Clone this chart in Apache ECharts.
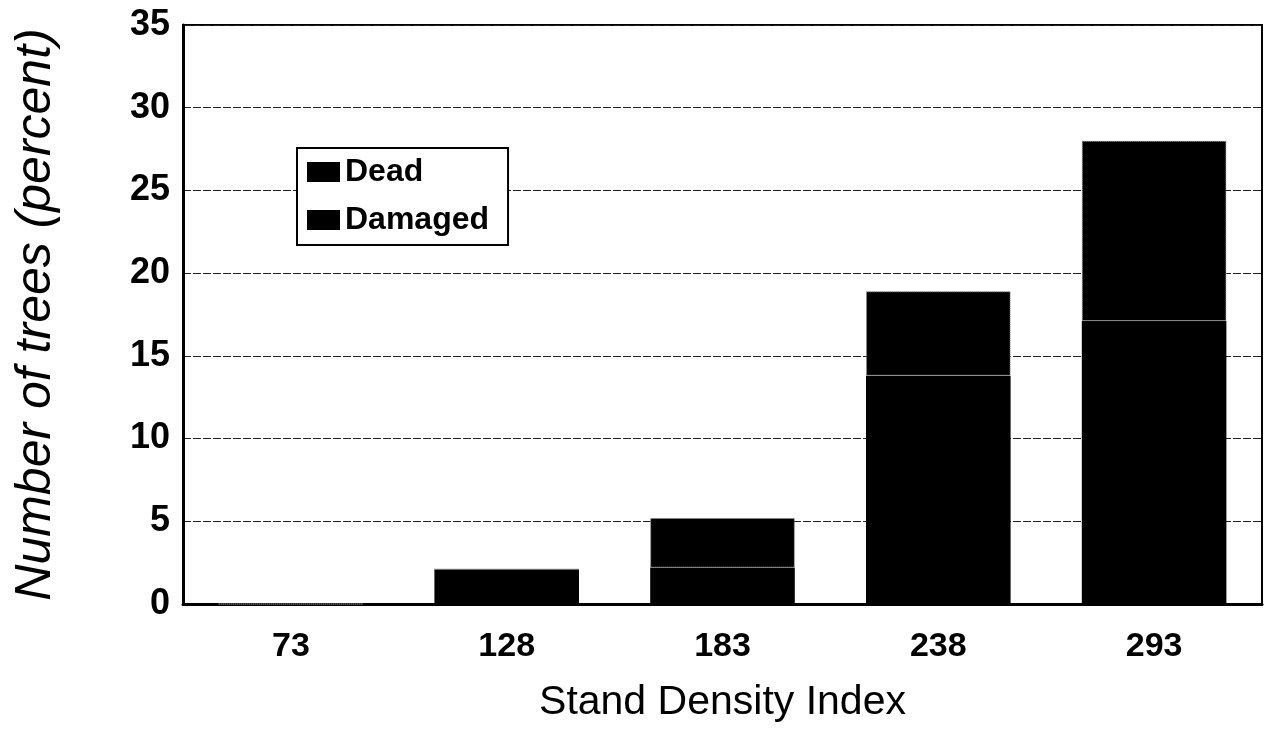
<!DOCTYPE html>
<html>
<head>
<meta charset="utf-8">
<script src="https://cdn.jsdelivr.net/npm/echarts@6/dist/echarts.min.js"></script>
<style>
html,body{margin:0;padding:0;background:#fff;}
#chart{width:1269px;height:730px;}
</style>
</head>
<body>
<div id="chart"></div>
<script>
const categories = ['73', '128', '183', '238', '293'];
const damaged = [0, 2.1, 2.2, 13.8, 17.1];
const dead = [0, 0, 3.0, 5.1, 10.9];
const yTicks = [0, 5, 10, 15, 20, 25, 30, 35];

const chart = echarts.init(document.getElementById('chart'));
const font = 'Liberation Sans, Arial, sans-serif';
chart.setOption({
  animation: false,
  backgroundColor: '#fff',
  textStyle: { fontFamily: font, color: '#000' },
  grid: { left: 183, right: 7, top: 25, bottom: 126, show: true, borderColor: '#000', borderWidth: 2 },
  legend: {
    data: ['Dead', 'Damaged'],
    orient: 'vertical',
    left: 297, top: 148,
    padding: [6, 19, 7, 10],
    itemGap: 12,
    itemWidth: 33, itemHeight: 20,
    icon: 'rect',
    itemStyle: { borderWidth: 0 },
    borderColor: '#000', borderWidth: 2,
    backgroundColor: '#fff',
    textStyle: { fontFamily: font, fontSize: 32, fontWeight: 'bold', color: '#000', lineHeight: 36 }
  },
  xAxis: {
    type: 'category',
    data: categories,
    axisLine: { lineStyle: { color: '#000', width: 3 } },
    axisTick: { show: false },
    axisLabel: { fontFamily: font, fontSize: 34, fontWeight: 'bold', color: '#000', margin: 26 },
    name: 'Stand Density Index',
    nameLocation: 'middle',
    nameGap: 78,
    nameTextStyle: { fontFamily: font, fontSize: 41, color: '#000' }
  },
  yAxis: {
    type: 'value',
    min: yTicks[0], max: yTicks[yTicks.length - 1], interval: yTicks[1] - yTicks[0],
    axisLine: { show: true, lineStyle: { color: '#000', width: 3 } },
    axisTick: { show: false },
    axisLabel: { fontFamily: font, fontSize: 36, fontWeight: 'bold', color: '#000', margin: 13 },
    splitLine: { lineStyle: { color: '#222', width: 1, type: [8, 2] } },
    name: 'Number of trees (percent)',
    nameLocation: 'middle',
    nameGap: 122,
    nameTextStyle: { fontFamily: font, fontSize: 50, fontStyle: 'italic', color: '#000' }
  },
  series: [
    { name: 'Damaged', type: 'bar', stack: 'a', data: damaged, barCategoryGap: '33%',
      itemStyle: { color: '#000' } },
    { name: 'Dead', type: 'bar', stack: 'a', data: dead,
      itemStyle: { color: '#000', borderColor: '#8a8a8a', borderWidth: 1, borderType: 'dotted' } }
  ]
});
</script>
</body>
</html>
